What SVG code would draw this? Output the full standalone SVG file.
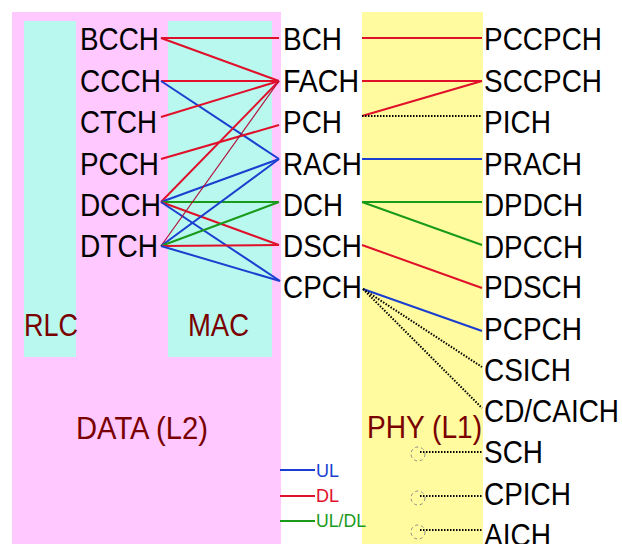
<svg xmlns="http://www.w3.org/2000/svg" width="622" height="544" viewBox="0 0 622 544">
<style>
.t{font-family:"Liberation Sans",Arial,sans-serif;font-size:32px;fill:#000}
.lab{font-family:"Liberation Sans",Arial,sans-serif;font-size:31px;fill:#7a0000}
.lg{font-family:"Liberation Sans",Arial,sans-serif;font-size:18px}
.r{stroke:#e0102a;stroke-width:2;fill:none}
.b{stroke:#1a3fd0;stroke-width:2;fill:none}
.g{stroke:#1a9a1a;stroke-width:2;fill:none}
.dr{stroke:#b0103a;stroke-width:1.2;fill:none}
.d{stroke:#000;stroke-width:2;stroke-dasharray:1.5,1.5;fill:none}
.c{stroke:#888;stroke-width:1;stroke-dasharray:3,3;fill:none}
</style>
<rect width="622" height="544" fill="#fff"/>
<g id="data-l2">
<rect x="12" y="12" width="269" height="540" fill="#ffc8ff"/>
<text class="lab" x="76" y="439" textLength="132" lengthAdjust="spacingAndGlyphs">DATA (L2)</text>
</g>
<g id="rlc">
<rect x="24" y="21" width="52" height="336" fill="#b9f8ee"/>
<text class="lab" x="24" y="336" textLength="54" lengthAdjust="spacingAndGlyphs">RLC</text>
</g>
<g id="mac">
<rect x="168" y="21" width="104" height="336" fill="#b9f8ee"/>
<text class="lab" x="188" y="336" textLength="61" lengthAdjust="spacingAndGlyphs">MAC</text>
</g>
<g id="phy-l1">
<rect x="362" y="12" width="121" height="540" fill="#fffb9e"/>
<text class="lab" x="367" y="438" textLength="115" lengthAdjust="spacingAndGlyphs">PHY (L1)</text>
</g>
<g id="logical">
<text class="t" x="80" y="50" textLength="79" lengthAdjust="spacingAndGlyphs">BCCH</text>
<text class="t" x="80" y="92" textLength="81" lengthAdjust="spacingAndGlyphs">CCCH</text>
<text class="t" x="80" y="133" textLength="77" lengthAdjust="spacingAndGlyphs">CTCH</text>
<text class="t" x="80" y="175" textLength="79" lengthAdjust="spacingAndGlyphs">PCCH</text>
<text class="t" x="80" y="216" textLength="81" lengthAdjust="spacingAndGlyphs">DCCH</text>
<text class="t" x="80" y="257" textLength="78" lengthAdjust="spacingAndGlyphs">DTCH</text>
</g>
<g id="transport">
<text class="t" x="283" y="50" textLength="59" lengthAdjust="spacingAndGlyphs">BCH</text>
<text class="t" x="283" y="92" textLength="76" lengthAdjust="spacingAndGlyphs">FACH</text>
<text class="t" x="283" y="133" textLength="59" lengthAdjust="spacingAndGlyphs">PCH</text>
<text class="t" x="283" y="175" textLength="79" lengthAdjust="spacingAndGlyphs">RACH</text>
<text class="t" x="283" y="216" textLength="60" lengthAdjust="spacingAndGlyphs">DCH</text>
<text class="t" x="283" y="257" textLength="79" lengthAdjust="spacingAndGlyphs">DSCH</text>
<text class="t" x="283" y="298" textLength="79" lengthAdjust="spacingAndGlyphs">CPCH</text>
</g>
<g id="physical">
<text class="t" x="484" y="50" textLength="118" lengthAdjust="spacingAndGlyphs">PCCPCH</text>
<text class="t" x="484" y="92" textLength="118" lengthAdjust="spacingAndGlyphs">SCCPCH</text>
<text class="t" x="484" y="133" textLength="67" lengthAdjust="spacingAndGlyphs">PICH</text>
<text class="t" x="484" y="175" textLength="98" lengthAdjust="spacingAndGlyphs">PRACH</text>
<text class="t" x="484" y="216" textLength="99" lengthAdjust="spacingAndGlyphs">DPDCH</text>
<text class="t" x="484" y="258" textLength="99" lengthAdjust="spacingAndGlyphs">DPCCH</text>
<text class="t" x="484" y="298" textLength="98" lengthAdjust="spacingAndGlyphs">PDSCH</text>
<text class="t" x="484" y="340" textLength="98" lengthAdjust="spacingAndGlyphs">PCPCH</text>
<text class="t" x="484" y="381" textLength="87" lengthAdjust="spacingAndGlyphs">CSICH</text>
<text class="t" x="484" y="422" textLength="135" lengthAdjust="spacingAndGlyphs">CD/CAICH</text>
<text class="t" x="484" y="463" textLength="59" lengthAdjust="spacingAndGlyphs">SCH</text>
<text class="t" x="484" y="505" textLength="87" lengthAdjust="spacingAndGlyphs">CPICH</text>
<text class="t" x="484" y="546" textLength="67" lengthAdjust="spacingAndGlyphs">AICH</text>
</g>
<g id="connectors">
<line class="r" x1="161" y1="38" x2="279" y2="38"/>
<line class="r" x1="161" y1="38" x2="279" y2="81"/>
<line class="r" x1="161" y1="81" x2="279" y2="81"/>
<line class="b" x1="161" y1="81" x2="279" y2="159"/>
<line class="r" x1="161" y1="117" x2="279" y2="81"/>
<line class="r" x1="161" y1="159" x2="279" y2="125"/>
<line class="r" x1="161" y1="202" x2="279" y2="81"/>
<line class="b" x1="161" y1="202" x2="279" y2="159"/>
<line class="g" x1="161" y1="202" x2="279" y2="202"/>
<line class="r" x1="161" y1="202" x2="279" y2="245"/>
<line class="b" x1="161" y1="202" x2="280" y2="281"/>
<line class="dr" x1="161" y1="246" x2="279" y2="81"/>
<line class="b" x1="161" y1="246" x2="279" y2="159"/>
<line class="g" x1="161" y1="246" x2="279" y2="202"/>
<line class="r" x1="161" y1="246" x2="279" y2="245"/>
<line class="b" x1="161" y1="246" x2="280" y2="281"/>
<line class="r" x1="362" y1="38" x2="482" y2="38"/>
<line class="r" x1="362" y1="81" x2="482" y2="81"/>
<line class="r" x1="362" y1="116" x2="482" y2="81"/>
<line class="d" x1="362" y1="116" x2="482" y2="116"/>
<line class="b" x1="362" y1="159" x2="482" y2="159"/>
<line class="g" x1="362" y1="202" x2="482" y2="202"/>
<line class="g" x1="362" y1="202" x2="482" y2="245"/>
<line class="r" x1="362" y1="245" x2="482" y2="288"/>
<line class="b" x1="363" y1="289" x2="482" y2="331"/>
<line class="d" x1="363" y1="289" x2="482" y2="367"/>
<line class="d" x1="363" y1="289" x2="482" y2="408"/>
<line class="d" x1="420" y1="452" x2="482" y2="452"/>
<line class="d" x1="420" y1="496" x2="482" y2="496"/>
<line class="d" x1="420" y1="530" x2="482" y2="530"/>
<circle class="c" cx="418" cy="454" r="7"/>
<circle class="c" cx="418" cy="498" r="7"/>
<circle class="c" cx="418" cy="532" r="7"/>
</g>
<g id="legend">
<line class="b" x1="280" y1="470" x2="315" y2="470"/>
<line class="r" x1="280" y1="496" x2="315" y2="496"/>
<line class="g" x1="280" y1="521" x2="315" y2="521"/>
<text class="lg" x="316" y="477" fill="#1a3fd0" textLength="23" lengthAdjust="spacingAndGlyphs">UL</text>
<text class="lg" x="316" y="502" fill="#e0102a" textLength="23" lengthAdjust="spacingAndGlyphs">DL</text>
<text class="lg" x="316" y="527" fill="#1a9a1a" textLength="50" lengthAdjust="spacingAndGlyphs">UL/DL</text>
</g>
</svg>
